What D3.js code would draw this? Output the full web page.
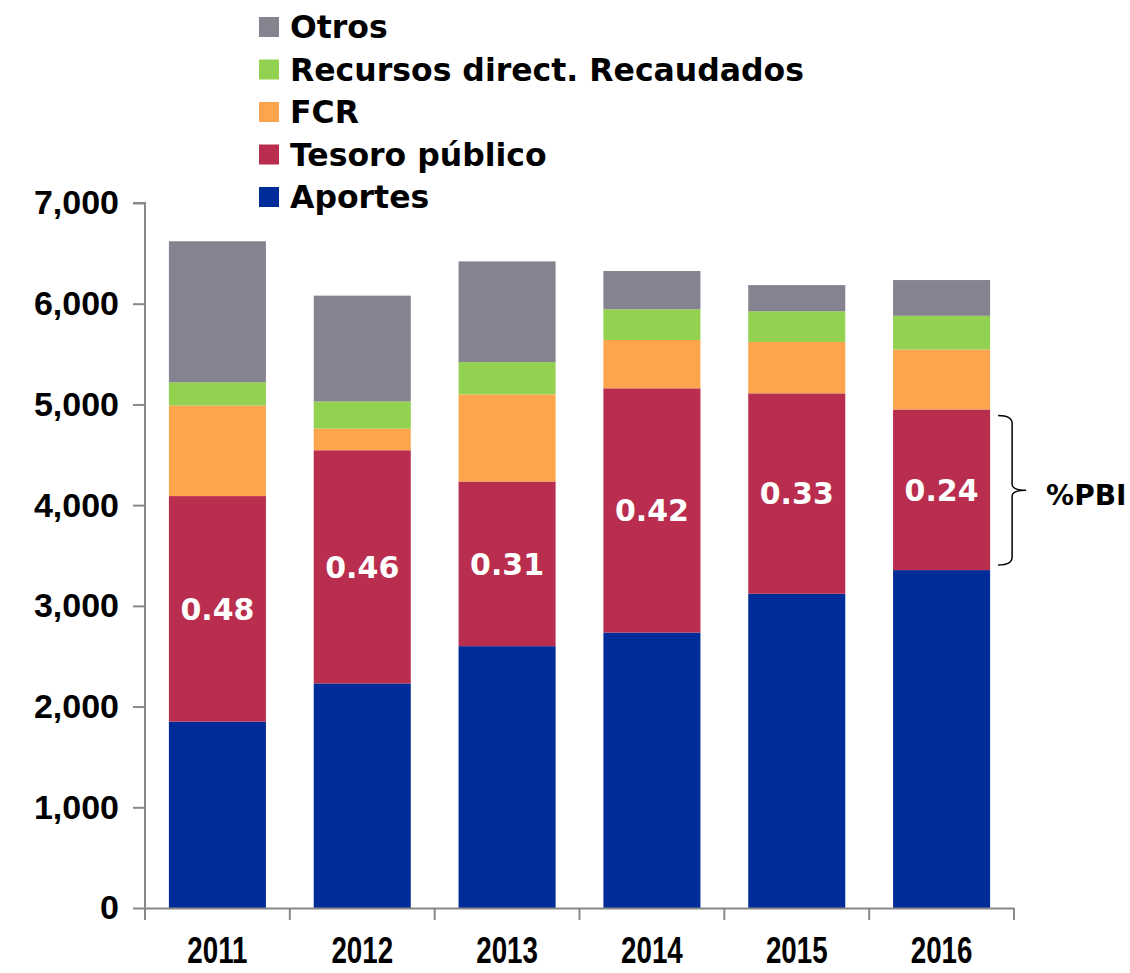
<!DOCTYPE html>
<html>
<head>
<meta charset="utf-8">
<script src="https://cdn.jsdelivr.net/npm/d3@7"></script>
<style>
  body { margin: 0; background: #fff; }
  svg { display: block; font-family: "DejaVu Sans", "Liberation Sans", Arial, sans-serif; font-weight: bold; }
</style>
</head>
<body>
<svg id="chart" width="1130" height="973"></svg>
<script>
// data (millones)
var years = ["2011", "2012", "2013", "2014", "2015", "2016"];
var aportes = [1850, 2230, 2600, 2735, 3120, 3355];
var tesoro = [2240, 2315, 1635, 2425, 1990, 1595];
var fcr = [900, 215, 865, 480, 510, 595];
var recursos = [230, 270, 320, 305, 305, 335];
var otros = [1400, 1050, 1000, 380, 260, 355];
var pbi = ["0.48", "0.46", "0.31", "0.42", "0.33", "0.24"];
var yTicks = [0, 1000, 2000, 3000, 4000, 5000, 6000, 7000];

var seriesNames = ["Aportes", "Tesoro público", "FCR", "Recursos direct. Recaudados", "Otros"];
var colors = ["#002c99", "#b92d4e", "#fda54d", "#93d150", "#858390"];

var table = years.map(function (y, i) {
  return {
    year: y,
    "Aportes": aportes[i],
    "Tesoro público": tesoro[i],
    "FCR": fcr[i],
    "Recursos direct. Recaudados": recursos[i],
    "Otros": otros[i]
  };
});

var svg = d3.select("#chart");
var margin = {left: 145, right: 116, top: 203, bottom: 65};
var width = 1130 - margin.left - margin.right;
var height = 973 - margin.top - margin.bottom;

var x = d3.scaleBand().domain(years).range([0, width]).paddingInner(0.33).paddingOuter(0.165);
var y = d3.scaleLinear().domain([0, 7000]).range([height, 0]);
var color = d3.scaleOrdinal().domain(seriesNames).range(colors);

var g = svg.append("g").attr("transform", "translate(" + margin.left + "," + margin.top + ")");

var stacked = d3.stack().keys(seriesNames)(table);

g.selectAll("g.layer")
  .data(stacked)
  .enter().append("g")
  .attr("class", "layer")
  .attr("fill", function (d) { return color(d.key); })
  .selectAll("rect")
  .data(function (d) { return d; })
  .enter().append("rect")
  .attr("x", function (d) { return x(d.data.year); })
  .attr("width", x.bandwidth())
  .attr("y", function (d) { return y(d[1]); })
  .attr("height", function (d) { return y(d[0]) - y(d[1]); });

// %PBI labels in the Tesoro segment
g.selectAll("text.pbi")
  .data(stacked[1])
  .enter().append("text")
  .attr("class", "pbi")
  .attr("x", function (d) { return x(d.data.year) + x.bandwidth() / 2; })
  .attr("y", function (d) { return (y(d[0]) + y(d[1])) / 2; })
  .attr("dy", "0.36em")
  .attr("text-anchor", "middle")
  .attr("fill", "#fff")
  .style("font-size", "30px")
  .text(function (d, i) { return pbi[i]; });

// y axis
var yAxis = d3.axisLeft(y).tickValues(yTicks).tickFormat(d3.format(",")).tickSize(12).tickPadding(14);
var ya = g.append("g").call(yAxis);
ya.select(".domain").attr("stroke", "#888").attr("stroke-width", 2).attr("d", "M0," + height + "V0H-12");
ya.selectAll(".tick line").attr("stroke", "#888").attr("stroke-width", 2);
ya.selectAll(".tick text").attr("fill", "#000").style("font-size", "34px").style("font-family", null);

// x axis: labels centred, ticks at the band boundaries
var xAxis = d3.axisBottom(x).tickSize(0).tickPadding(0);
var xa = g.append("g").attr("transform", "translate(0," + height + ")").call(xAxis);
xa.select(".domain").attr("stroke", "#888").attr("stroke-width", 2);
// the original font is tall and narrow, so squeeze the labels horizontally
xa.selectAll(".tick text")
  .attr("fill", "#000")
  .attr("y", 55)
  .attr("dy", null)
  .attr("transform", "scale(0.75,1)")
  .style("font-size", "37px")
  .style("font-family", null);

var step = x.step();
var bounds = d3.range(years.length + 1).map(function (i) { return i * step; });
xa.selectAll("line.sep")
  .data(bounds)
  .enter().append("line")
  .attr("class", "sep")
  .attr("x1", function (d) { return d; })
  .attr("x2", function (d) { return d; })
  .attr("y1", 0)
  .attr("y2", 12)
  .attr("stroke", "#888")
  .attr("stroke-width", 2);

// brace next to the last bar
var last = stacked[1][years.length - 1];
var bTop = y(last[1]) + 6, bBot = y(last[0]) - 5, bMid = (bTop + bBot) / 2;
var bx = x(years[years.length - 1]) + x.bandwidth();
var bp = d3.path();
bp.moveTo(bx + 8, bTop);
bp.quadraticCurveTo(bx + 22, bTop, bx + 22, bTop + 8);
bp.lineTo(bx + 22, bMid - 6);
bp.quadraticCurveTo(bx + 22, bMid, bx + 36, bMid);
bp.quadraticCurveTo(bx + 22, bMid, bx + 22, bMid + 6);
bp.lineTo(bx + 22, bBot - 8);
bp.quadraticCurveTo(bx + 22, bBot, bx + 8, bBot);
g.append("path").attr("d", bp.toString()).attr("fill", "none").attr("stroke", "#000").attr("stroke-width", 1.5);
g.append("text")
  .attr("x", bx + 56)
  .attr("y", bMid + 5)
  .attr("dy", "0.36em")
  .style("font-size", "28px")
  .text("%PBI");

// legend
var legend = svg.append("g").attr("transform", "translate(259,27)");
var items = seriesNames.slice().reverse();
var row = legend.selectAll("g.item")
  .data(items)
  .enter().append("g")
  .attr("class", "item")
  .attr("transform", function (d, i) { return "translate(0," + (i * 42.5) + ")"; });
row.append("rect")
  .attr("x", 0).attr("y", -10).attr("width", 20).attr("height", 20)
  .attr("fill", function (d) { return color(d); });
row.append("text")
  .attr("x", 31)
  .attr("y", 0)
  .attr("dy", "0.36em")
  .style("font-size", "31.5px")
  .text(function (d) { return d; });
</script>
</body>
</html>
